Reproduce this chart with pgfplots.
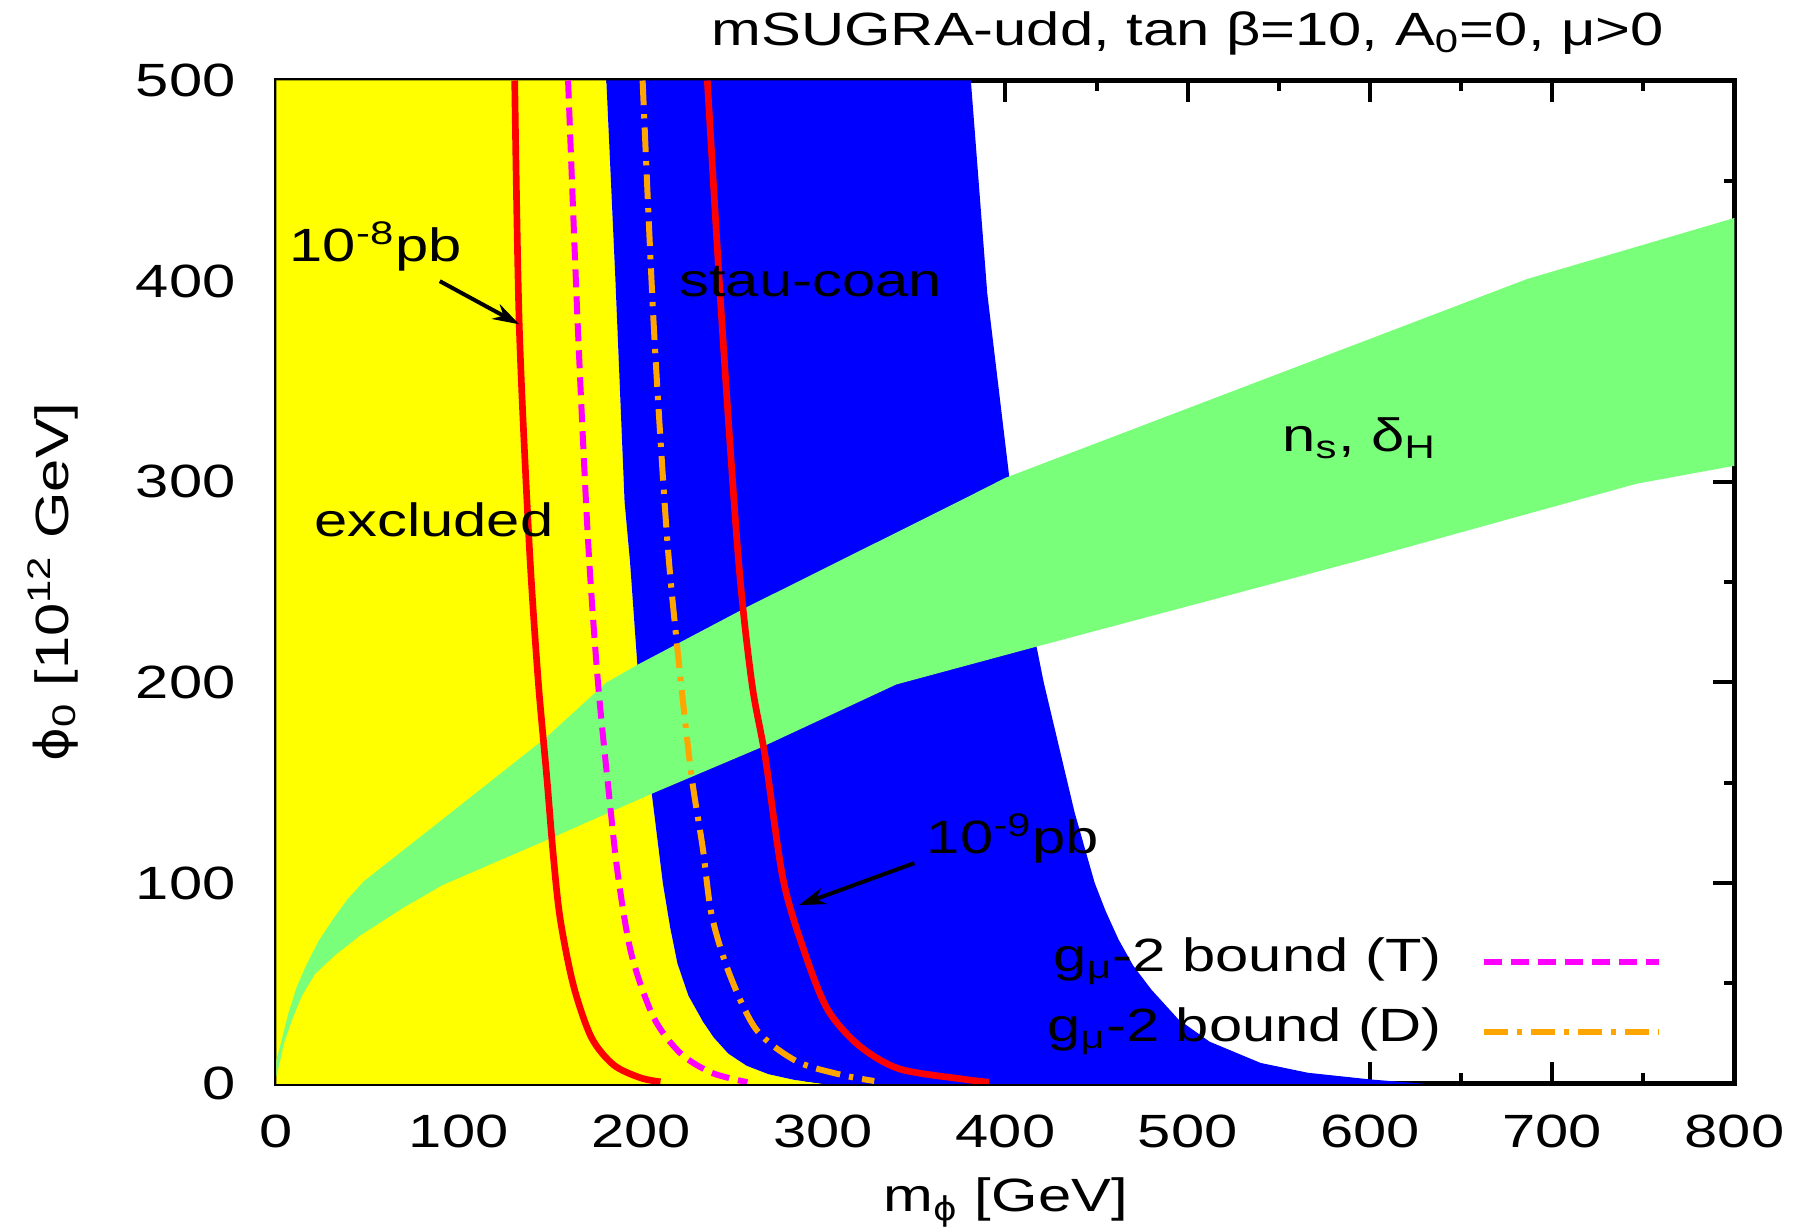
\documentclass[border=0pt]{standalone}
\usepackage{fontspec}
\setmainfont{Liberation Sans}[FakeStretch=1.28]
\newfontfamily\dvs{DejaVu Sans}[FakeStretch=1.1]
\usepackage{pgfplots}
\pgfplotsset{compat=1.18}
\usetikzlibrary{arrows.meta}
\definecolor{cyel}{RGB}{255,255,0}
\definecolor{cblue}{RGB}{0,0,255}
\definecolor{cgreen}{RGB}{122,255,122}
\definecolor{cred}{RGB}{255,0,0}
\definecolor{cmag}{RGB}{255,0,255}
\definecolor{corange}{RGB}{255,165,0}
\newcommand{\vphi}{{\dvs ϕ}}
\begin{document}
\fontsize{14}{17}\selectfont
\begin{tikzpicture}
\begin{axis}[
  at={(0,0)}, anchor=south west,
  scale only axis, width=437.4pt, height=301pt,
  xmin=0, xmax=800, ymin=0, ymax=500,
  xtick={0,100,...,800}, ytick={0,100,...,500},
  minor x tick num=1, minor y tick num=1,
  tick align=inside, xtick pos=both, ytick pos=both,
  major tick length=6.5pt, minor tick length=3.2pt,
  axis line style={line width=1.5pt},
  every tick/.style={black, line width=1.2pt},
  /pgf/number format/assume math mode=true,
  xticklabel style={yshift=-4.5pt},
  yticklabel style={xshift=-7.4pt},
  xlabel={m\textsubscript{\vphi} [GeV]},
  ylabel={\vphi\textsubscript{0} [10\textsuperscript{12} GeV]},
  xlabel style={at={(axis description cs:0.5,-0.1276)}, anchor=base},
  ylabel style={at={(axis description cs:-0.1429,0.5)}, anchor=base},
  title={mSUGRA-udd, tan β=10, A\textsubscript{0}=0, μ>0},
  title style={at={(axis description cs:0.625,1.0352)}, anchor=base, yshift=-6pt},
  legend plot pos=right,
  legend cell align=right,
  legend image code/.code={\draw[#1] (0pt,0pt) -- (52.5pt,0pt);},
  legend style={draw=none, fill=none, inner sep=0pt, outer sep=0pt,
    row sep=6.6pt, column sep=11.7pt,
    nodes={inner sep=0pt, text height=10.2pt, text depth=4.2pt},
    at={(axis cs:760,14.1)}, anchor=south east},
]
% excluded region
\addplot[fill=cyel, draw=none, forget plot] coordinates {
 (0,0) (0,500) (181,500) (186,400) (191,290) (194,260) (198,209) (206,144)
 (212,100) (216,78) (220,60) (226,44) (234,31) (240,23) (248,15) (258,9) (270,4.8)
 (284,2) (300,0)} -- cycle;
% stau-coannihilation region
\addplot[fill=cblue, draw=none, forget plot] coordinates {
 (181,500) (186,400) (191,290) (194,260) (198,209) (206,144)
 (212,100) (216,78) (220,60) (226,44) (234,31) (240,23) (248,15) (258,9) (270,4.8)
 (284,2) (300,0) (630,0) (600,2.2) (566,5.5)
 (540,10.4) (512,21) (495,32) (480,47) (470,59) (462,72) (455,86) (449,100) (438,135) (421,200) (417,218)
 (402,303) (390,394) (381,500)} -- cycle;
% n_s, delta_H band
\addplot[fill=cgreen, draw=none, forget plot] coordinates {
 (0,12) (1.6,17.4) (6.5,35) (11,48) (16,58.5) (23,71) (31,82) (39,92) (48,101) (90,131) (148,172.6)
 (181,200) (198.5,209) (258,237.5) (375,290.5) (400,302) (686,401) (800,431.5)
 (800,308) (746,299) (595,261) (417.5,218) (340,199) (266,167.7) (207,145)
 (148,121.4) (91,99) (70,88) (46,74) (32,64) (21,54.6) (14,44) (9,33) (4,20) (1.6,10) (0,4)} -- cycle;
% 10^-8 pb
\addplot[cred, line width=2pt, smooth, tension=0.5, forget plot] coordinates {
 (130.7,500) (133.2,378) (138.6,270) (143.5,202) (148.3,153) (151.9,113.6)
 (155.7,82) (163,48.8) (172.8,23.1) (185,9.4) (199.7,3) (210.7,1)};
% g-2 (T)
\addplot[cmag, line width=1.8pt, smooth, tension=0.5, dash pattern=on 5.4pt off 2.7pt] coordinates {
 (160,500) (165.3,378) (171,270) (176.4,200) (182.6,143) (187.4,103.7)
 (194.8,64.4) (207,33) (221.7,15.2) (238.8,5.5) (258.4,0.8)};
\addlegendentry{g\textsubscript{μ}-2 bound (T)}
% g-2 (D)
\addplot[corange, line width=1.8pt, smooth, tension=0.5, dash pattern=on 7.4pt off 2.7pt on 1.3pt off 2.7pt] coordinates {
 (200.9,500) (207,378) (214.5,270) (221.7,202) (227.8,153) (233.9,117.5)
 (238.8,84) (248.6,54.6) (263.3,27) (285.3,11.3) (309.8,4.5) (328,1.4)};
\addlegendentry{g\textsubscript{μ}-2 bound (D)}
% 10^-9 pb
\addplot[cred, line width=2pt, smooth, tension=0.5, forget plot] coordinates {
 (236.4,500) (244.5,378) (253.5,261) (260.8,200) (268.2,162.7) (278,101.8)
 (290.2,64.4) (302.5,36.9) (319.6,19.1) (341.6,7.5) (375.3,2.5) (391,0.8)};
% annotations
\node[anchor=base west, inner sep=0pt] at (axis cs:6.9,409.6) {10\textsuperscript{-8}pb};
\draw[line width=1.2pt, -{Stealth[length=8pt,width=5pt]}] (axis cs:89.6,400) -- (axis cs:133.2,378.5);
\node[anchor=base west, inner sep=0pt] at (axis cs:220.7,392.6) {stau-coan};
\node[anchor=base west, inner sep=0pt] at (axis cs:20.4,272.7) {excluded};
\node[anchor=base west, inner sep=0pt] at (axis cs:551.6,315) {n\textsubscript{s}, δ\textsubscript{H}};
\node[anchor=base west, inner sep=0pt] at (axis cs:356.5,114.7) {10\textsuperscript{-9}pb};
\draw[line width=1.2pt, -{Stealth[length=8pt,width=5pt]}] (axis cs:350,110) -- (axis cs:286.6,89);
\end{axis}
\pgfresetboundingbox
\useasboundingbox (-82.95pt,-43.8pt) rectangle (461.25pt,325.15pt);
\end{tikzpicture}
\end{document}
